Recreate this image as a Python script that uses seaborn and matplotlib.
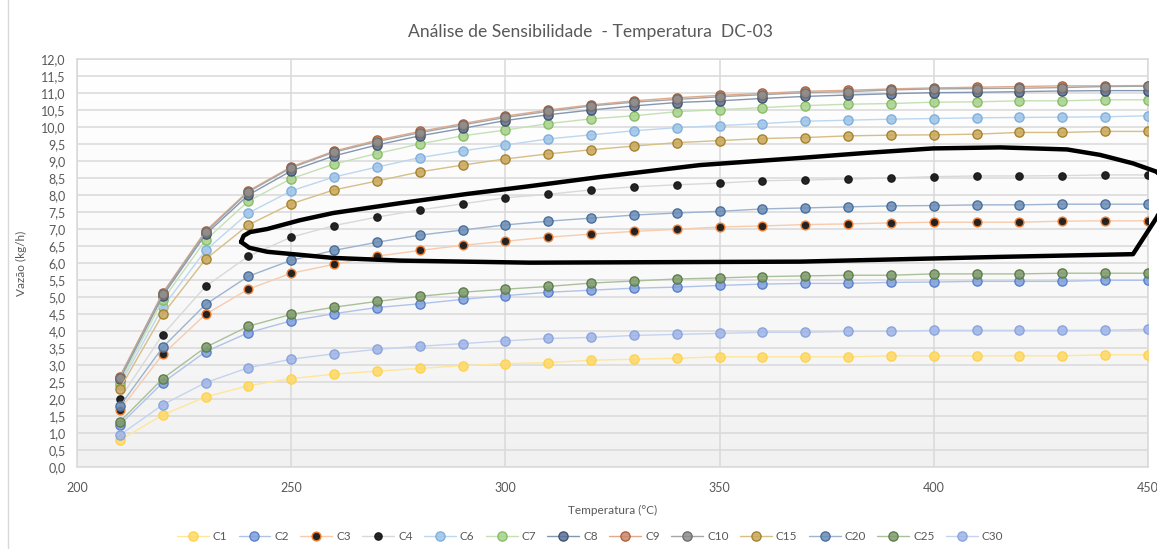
import numpy as np
import pandas as pd
import seaborn as sns
import matplotlib
matplotlib.use("Agg")
import matplotlib.pyplot as plt
from matplotlib.lines import Line2D

# Temperatures (°C) and mass flow (kg/h) per component
temperatura = list(range(210, 451, 10))

series_names = ["C1", "C2", "C3", "C4", "C6", "C7", "C8", "C9", "C10",
                "C15", "C20", "C25", "C30"]

C1 = [0.79, 1.53, 2.06, 2.39, 2.60, 2.73, 2.82, 2.90, 2.98, 3.04, 3.07, 3.14, 3.17,
      3.20, 3.24, 3.24, 3.24, 3.24, 3.27, 3.27, 3.27, 3.27, 3.27, 3.30, 3.30]
C2 = [1.24, 2.48, 3.39, 3.95, 4.30, 4.51, 4.69, 4.80, 4.93, 5.04, 5.14, 5.20, 5.26,
      5.29, 5.34, 5.38, 5.40, 5.40, 5.43, 5.44, 5.46, 5.46, 5.46, 5.49, 5.49]
C3 = [1.68, 3.31, 4.49, 5.23, 5.70, 5.96, 6.20, 6.37, 6.52, 6.64, 6.76, 6.85, 6.93,
      6.99, 7.06, 7.09, 7.13, 7.15, 7.18, 7.20, 7.20, 7.20, 7.23, 7.24, 7.24]
C4 = [2.01, 3.89, 5.31, 6.20, 6.76, 7.10, 7.35, 7.56, 7.74, 7.92, 8.02, 8.15, 8.24,
      8.30, 8.35, 8.42, 8.44, 8.47, 8.50, 8.54, 8.56, 8.56, 8.57, 8.59, 8.59]
C6 = [2.41, 4.70, 6.37, 7.47, 8.12, 8.53, 8.82, 9.10, 9.30, 9.47, 9.65, 9.77, 9.89,
      9.98, 10.04, 10.10, 10.17, 10.20, 10.23, 10.25, 10.27, 10.28, 10.29, 10.30, 10.33]
C7 = [2.49, 4.91, 6.67, 7.82, 8.48, 8.91, 9.22, 9.50, 9.74, 9.91, 10.10, 10.24, 10.33,
      10.45, 10.51, 10.57, 10.63, 10.67, 10.69, 10.73, 10.74, 10.77, 10.77, 10.80, 10.80]
C8 = [2.58, 5.03, 6.84, 8.00, 8.71, 9.15, 9.47, 9.74, 9.96, 10.19, 10.36, 10.50, 10.62,
      10.72, 10.77, 10.84, 10.90, 10.94, 10.98, 11.01, 11.02, 11.04, 11.06, 11.07, 11.07]
C9 = [2.66, 5.12, 6.94, 8.12, 8.83, 9.29, 9.61, 9.87, 10.10, 10.32, 10.50, 10.65, 10.77,
      10.86, 10.93, 10.99, 11.05, 11.08, 11.12, 11.15, 11.17, 11.19, 11.21, 11.21, 11.22]
C10 = [2.63, 5.09, 6.90, 8.09, 8.80, 9.26, 9.57, 9.83, 10.06, 10.28, 10.46, 10.62, 10.73,
       10.81, 10.89, 10.95, 11.01, 11.04, 11.09, 11.12, 11.13, 11.14, 11.16, 11.19, 11.20]
C15 = [2.30, 4.49, 6.11, 7.12, 7.74, 8.15, 8.41, 8.68, 8.88, 9.06, 9.21, 9.33, 9.44,
       9.54, 9.60, 9.66, 9.69, 9.74, 9.76, 9.77, 9.79, 9.84, 9.84, 9.87, 9.87]
C20 = [1.79, 3.52, 4.78, 5.61, 6.08, 6.37, 6.61, 6.82, 6.97, 7.12, 7.23, 7.32, 7.41,
       7.47, 7.52, 7.59, 7.62, 7.65, 7.68, 7.69, 7.71, 7.71, 7.73, 7.73, 7.73]
C25 = [1.33, 2.60, 3.52, 4.14, 4.49, 4.70, 4.87, 5.02, 5.14, 5.23, 5.31, 5.41, 5.47,
       5.53, 5.56, 5.60, 5.62, 5.64, 5.64, 5.68, 5.68, 5.68, 5.70, 5.70, 5.70]
C30 = [0.94, 1.83, 2.48, 2.92, 3.17, 3.33, 3.46, 3.55, 3.63, 3.71, 3.78, 3.81, 3.87,
       3.90, 3.93, 3.96, 3.96, 3.99, 3.99, 4.02, 4.02, 4.02, 4.02, 4.02, 4.05]

series_values = [C1, C2, C3, C4, C6, C7, C8, C9, C10, C15, C20, C25, C30]

# (line colour, marker face, marker edge, marker size) for each component
styles = {
    "C1":  ("#FFE699", "#FFD966", "#FFD24D", 6.6),
    "C2":  ("#AFC3EA", "#7F9FDB", "#5B80CC", 6.6),
    "C3":  ("#F8CBAD", "#000000", "#ED7D31", 6.3),
    "C4":  ("#D9D9D9", "#000000", "#1A1A1A", 5.2),
    "C6":  ("#BDD7EE", "#9DC3E6", "#7FB0DE", 6.6),
    "C7":  ("#C5E0B4", "#A9D18E", "#86BE63", 6.6),
    "C8":  ("#8497B0", "#5A6E9E", "#44546A", 6.6),
    "C9":  ("#DFA98C", "#C9896A", "#B0603A", 6.6),
    "C10": ("#A6A6A6", "#8C8C8C", "#6E6E6E", 6.6),
    "C15": ("#D6BE85", "#C9A75A", "#A5832D", 6.6),
    "C20": ("#9DB3CF", "#6A8CB5", "#4A6F9C", 6.6),
    "C25": ("#A9C09A", "#7E9A6A", "#5E7D4A", 6.6),
    "C30": ("#C5D3EF", "#9FB4E6", "#8AA4DE", 6.6),
}

# Outline drawn over the chart (temperature, flow) to highlight the middle curves
destaque_T = [238.3, 238.9, 240.4, 244.4, 252.1, 259.8, 275.4, 291.0, 305.7, 322.1,
              345.4, 368.8, 384.4, 399.8, 415.5, 431.1, 438.8, 446.5, 452.1, 455.1,
              452.1, 446.5, 415.5, 368.8, 305.7, 275.4, 259.8, 244.4, 240.2, 238.3]
destaque_V = [6.62, 6.80, 6.91, 7.00, 7.26, 7.47, 7.76, 8.03, 8.26, 8.53,
              8.88, 9.09, 9.24, 9.37, 9.40, 9.34, 9.18, 8.93, 8.68, 8.15,
              7.35, 6.26, 6.18, 6.04, 6.01, 6.07, 6.15, 6.33, 6.45, 6.62]

sns.set_theme(style="white")
plt.rcParams["font.family"] = ["Lato", "DejaVu Sans"]

text_color = "#595959"
grid_color = "#D9D9D9"

W, H = 1157, 549
fig = plt.figure(figsize=(W / 100, H / 100), dpi=100)
ax = fig.add_axes([77 / W, 1 - 467 / H, (1148 - 77) / W, (467 - 59) / H])

# soft vertical gradient in the plotting area
grad = np.linspace(1.0, 0.0, 256).reshape(-1, 1)
ax.imshow(grad, extent=[0, 1, 0, 1], transform=ax.transAxes, aspect="auto",
          cmap=matplotlib.colors.LinearSegmentedColormap.from_list(
              "bg", ["#F1F1F1", "#FAFAFA", "#FFFFFF"]),
          vmin=0, vmax=1, zorder=0)

for name, vals in zip(series_names, series_values):
    lc, fc, ec, ms = styles[name]
    face = matplotlib.colors.to_rgba(fc, 0.85)
    sns.lineplot(x=temperatura, y=vals, ax=ax, color=lc, linewidth=1.0,
                 marker="o", markersize=ms, markerfacecolor=face,
                 markeredgecolor=ec, markeredgewidth=1.0, label=name,
                 legend=False, zorder=3)

ax.plot(destaque_T, destaque_V, color="black", linewidth=3.2,
        solid_joinstyle="round", solid_capstyle="round", clip_on=False, zorder=5)

ax.set_xlim(200, 450)
ax.set_ylim(0, 12)
ax.set_xticks(range(200, 451, 50))
ax.set_yticks(np.arange(0, 12.01, 0.5))
ax.set_yticklabels([f"{v:.1f}".replace(".", ",") for v in np.arange(0, 12.01, 0.5)])
ax.grid(True, color=grid_color, linewidth=1.1, zorder=1)
ax.set_axisbelow(True)
for sp in ax.spines.values():
    sp.set_color(grid_color)
    sp.set_linewidth(1.1)
ax.tick_params(axis="both", length=0, labelsize=9, labelcolor=text_color)
ax.tick_params(axis="x", pad=11)
ax.tick_params(axis="y", pad=8)

ax.set_xlabel("Temperatura (°C)", fontsize=8.5, color=text_color, labelpad=8)
ax.set_ylabel("Vazão (kg/h)", fontsize=8.5, color=text_color, labelpad=10)

fig.text(590 / W, 1 - 32 / H, "Análise de Sensibilidade  - Temperatura  DC-03",
         ha="center", va="center", fontsize=12.6, color=text_color)

handles, labels = ax.get_legend_handles_labels()
leg = fig.legend(handles, labels, loc="center", bbox_to_anchor=(590 / W, 1 - 537 / H),
                 ncol=13, frameon=False, fontsize=8.5, handlelength=2.7,
                 handletextpad=0.35, columnspacing=0.95, labelcolor=text_color,
                 borderaxespad=0)

# chart frame line on the left
fig.add_artist(Line2D([8 / W, 8 / W], [0, 1], transform=fig.transFigure,
                      color="#D9D9D9", linewidth=1.0))

fig.savefig("out.png", dpi=100, facecolor="white")
